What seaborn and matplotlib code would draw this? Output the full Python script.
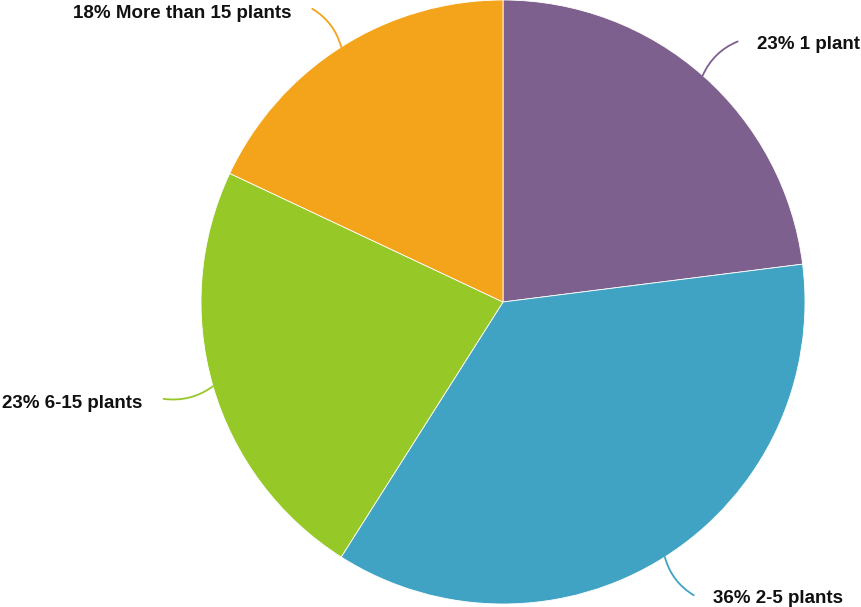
import numpy as np
import matplotlib.pyplot as plt
import seaborn as sns

labels = ['1 plant', '2-5 plants', '6-15 plants', 'More than 15 plants']
shares = [23, 36, 23, 18]
colors = ['#7E608F', '#40A3C3', '#96C827', '#F4A41A']

sns.set_theme(style='white')
plt.rcParams['font.family'] = ['Liberation Sans', 'DejaVu Sans']

fig = plt.figure(figsize=(8.62, 6.07), dpi=100)
ax = fig.add_axes([0, 0, 1, 1])

# pixel-based coordinates, y up
cx, cy, R = 503, 305, 302
ax.pie(shares, colors=colors, startangle=90, counterclock=False,
       center=(cx, cy), radius=R, frame=True,
       wedgeprops=dict(edgecolor='white', linewidth=0.6))
ax.set_xlim(0, 862)
ax.set_ylim(0, 607)
ax.set_aspect('equal')
ax.axis('off')

total = sum(shares)
cum = 0
for lab, s, col in zip(labels, shares, colors):
    mid = (cum + s / 2) / total * 2 * np.pi
    cum += s
    dx, dy = np.sin(mid), np.cos(mid)
    edge = (cx + R * dx, cy + R * dy)
    end = (cx + 1.16 * R * dx + 3 * np.sign(dx), cy + 1.15 * R * dy)
    rad = 0.2 * np.sign(dx) * np.sign(dy)
    ax.annotate('', xy=edge, xytext=end,
                arrowprops=dict(arrowstyle='-', color=col, lw=1.3,
                                shrinkA=0, shrinkB=0,
                                connectionstyle=f'arc3,rad={rad}'))
    if dx > 0:
        ax.text(end[0] + 19, end[1] - 8, f'{s}% {lab}', ha='left', va='baseline',
                fontsize=13.5, fontweight='bold', color='#111111')
    else:
        ax.text(end[0] - 21, end[1] - 9, f'{s}% {lab}', ha='right', va='baseline',
                fontsize=13.5, fontweight='bold', color='#111111')

fig.savefig('out.png', dpi=100)
